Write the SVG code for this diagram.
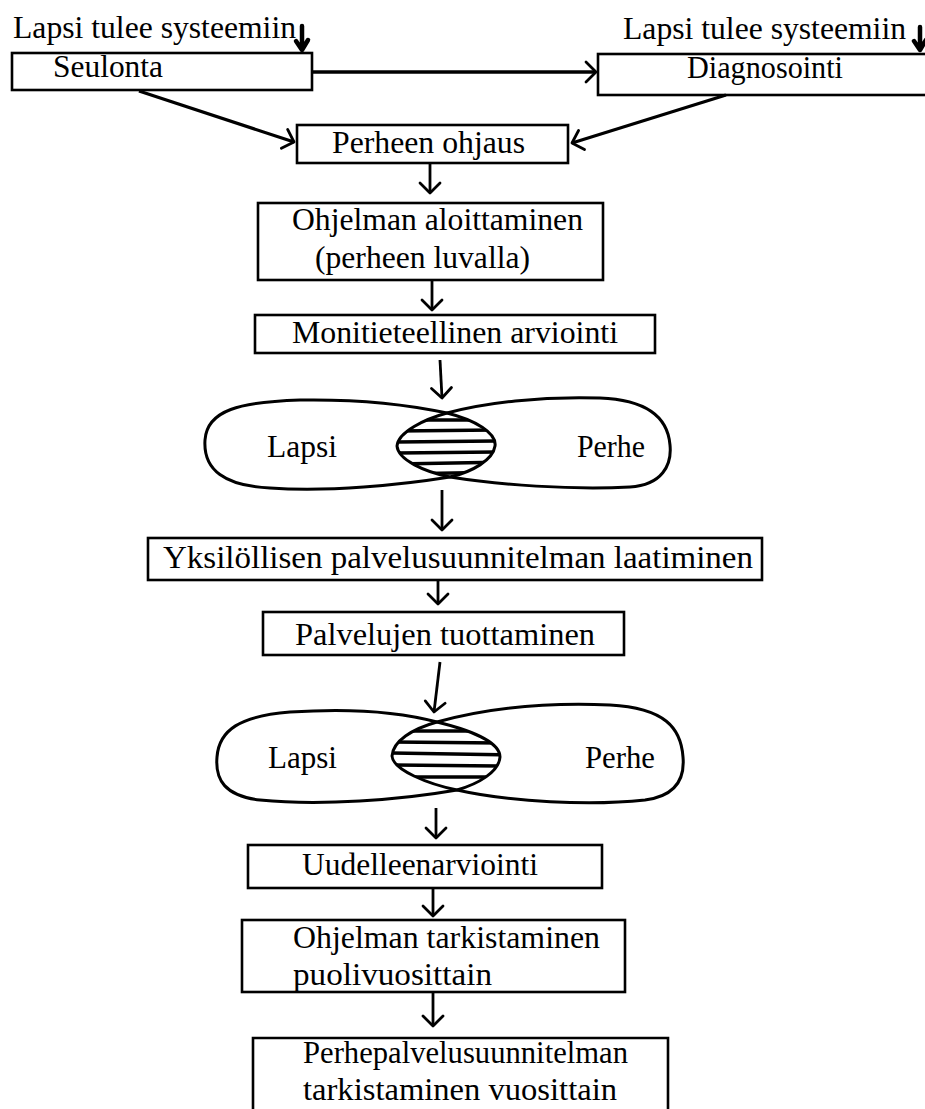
<svg xmlns="http://www.w3.org/2000/svg" width="925" height="1109" viewBox="0 0 925 1109">
<style>
  .box{fill:none;stroke:#000;stroke-width:2.6}
  .t{font-family:"Liberation Serif","Times New Roman",serif;font-size:32px;fill:#000}
  .c{fill:none;stroke:#000;stroke-width:2.8}
  .bold{fill:none;stroke:#000;stroke-width:4.5;stroke-linecap:round;stroke-linejoin:round}
  .loop{fill:none;stroke:#000;stroke-width:3}
  .hatch{stroke:#000;stroke-width:3.5}
</style>
<defs>
  <marker id="ah" markerUnits="userSpaceOnUse" markerWidth="16" markerHeight="24" refX="11" refY="10" orient="auto" overflow="visible">
    <path d="M1,0 L11,10 L1,20" fill="none" stroke="#000" stroke-width="2.8" stroke-linecap="round" stroke-linejoin="round"/>
  </marker>
  <path id="lens1" d="M447,413 C475,420 497,433 495,446 C493,460 472,472 450,477 C425,472 398,460 397,446 C398,432 425,419 447,413 Z"/>
  <clipPath id="clip1"><use href="#lens1"/></clipPath>
  <path id="lens2" d="M437,722 C470,730 500,742 500,757 C499,772 478,784 457,790 C428,784 393,770 392,756 C393,741 412,729 437,722 Z"/>
  <clipPath id="clip2"><use href="#lens2"/></clipPath>
</defs>

<g id="entry-left">
  <text class="t" x="13" y="38" textLength="283" lengthAdjust="spacingAndGlyphs">Lapsi tulee systeemiin</text>
  <path class="bold" d="M302,26 L302,48 M296,41 L302,50 L308,40"/>
</g>
<g id="entry-right">
  <text class="t" x="623" y="39" textLength="283" lengthAdjust="spacingAndGlyphs">Lapsi tulee systeemiin</text>
  <path class="bold" d="M920,27 L920,48 M914,41 L920,50 L926,40"/>
</g>

<g id="seulonta">
  <rect class="box" x="12" y="53" width="300" height="37"/>
  <text class="t" x="53" y="77" textLength="110" lengthAdjust="spacingAndGlyphs">Seulonta</text>
</g>
<g id="diagnosointi">
  <rect class="box" x="598" y="54" width="340" height="41"/>
  <text class="t" x="687" y="78" textLength="156" lengthAdjust="spacingAndGlyphs">Diagnosointi</text>
</g>
<g id="perheen-ohjaus">
  <rect class="box" x="297" y="125" width="271" height="38"/>
  <text class="t" x="332" y="153" textLength="193" lengthAdjust="spacingAndGlyphs">Perheen ohjaus</text>
</g>
<g id="ohjelman-aloittaminen">
  <rect class="box" x="258" y="203" width="345" height="77"/>
  <text class="t" x="292" y="230" textLength="291" lengthAdjust="spacingAndGlyphs">Ohjelman aloittaminen</text>
  <text class="t" x="315" y="268" textLength="215" lengthAdjust="spacingAndGlyphs">(perheen luvalla)</text>
</g>
<g id="monitieteellinen">
  <rect class="box" x="255" y="315" width="400" height="38"/>
  <text class="t" x="292" y="343" textLength="326" lengthAdjust="spacingAndGlyphs">Monitieteellinen arviointi</text>
</g>

<g id="lapsi-perhe-1">
  <g clip-path="url(#clip1)">
    <line class="hatch" x1="390" y1="420" x2="505" y2="420"/>
    <line class="hatch" x1="390" y1="431" x2="505" y2="430"/>
    <line class="hatch" x1="390" y1="442" x2="505" y2="441"/>
    <line class="hatch" x1="390" y1="453" x2="505" y2="452"/>
    <line class="hatch" x1="390" y1="464" x2="505" y2="462"/>
    <line class="hatch" x1="390" y1="474" x2="505" y2="472"/>
  </g>
  <path class="loop" d="M447,413 C475,420 497,433 495,446 C493,460 472,472 450,477 C400,485 330,492 270,488 C225,486 203,470 205,440 C207,410 240,402 300,400 C360,399 410,405 447,413 Z"/>
  <path class="loop" d="M447,413 C425,419 398,432 397,446 C398,460 425,472 450,477 C500,485 570,490 630,487 C662,485 672,465 670,445 C668,420 650,400 600,398 C540,396 485,403 447,413 Z"/>
  <text class="t" x="267" y="457" textLength="70" lengthAdjust="spacingAndGlyphs">Lapsi</text>
  <text class="t" x="577" y="457" textLength="68" lengthAdjust="spacingAndGlyphs">Perhe</text>
</g>

<g id="yksilollisen">
  <rect class="box" x="148" y="538" width="614" height="42"/>
  <text class="t" x="163" y="568" textLength="590" lengthAdjust="spacingAndGlyphs">Yksilöllisen palvelusuunnitelman laatiminen</text>
</g>
<g id="palvelujen">
  <rect class="box" x="263" y="612" width="361" height="43"/>
  <text class="t" x="295" y="645" textLength="300" lengthAdjust="spacingAndGlyphs">Palvelujen tuottaminen</text>
</g>

<g id="lapsi-perhe-2">
  <g clip-path="url(#clip2)">
    <line class="hatch" x1="385" y1="731" x2="510" y2="731"/>
    <line class="hatch" x1="385" y1="742" x2="510" y2="743"/>
    <line class="hatch" x1="385" y1="753" x2="510" y2="755"/>
    <line class="hatch" x1="385" y1="765" x2="510" y2="766"/>
    <line class="hatch" x1="385" y1="777" x2="510" y2="777"/>
  </g>
  <path class="loop" d="M437,722 C470,730 500,742 500,757 C499,772 478,784 457,790 C400,800 320,806 260,800 C225,796 215,780 217,757 C219,730 240,716 290,712 C350,708 400,712 437,722 Z"/>
  <path class="loop" d="M437,722 C412,729 393,741 392,756 C393,770 428,784 457,790 C510,802 590,806 645,800 C675,796 685,780 683,757 C681,728 665,708 610,705 C540,702 480,710 437,722 Z"/>
  <text class="t" x="268" y="768" textLength="69" lengthAdjust="spacingAndGlyphs">Lapsi</text>
  <text class="t" x="585" y="768" textLength="70" lengthAdjust="spacingAndGlyphs">Perhe</text>
</g>

<g id="uudelleenarviointi">
  <rect class="box" x="248" y="845" width="354" height="43"/>
  <text class="t" x="302" y="875" textLength="236" lengthAdjust="spacingAndGlyphs">Uudelleenarviointi</text>
</g>
<g id="ohjelman-tarkistaminen">
  <rect class="box" x="242" y="920" width="383" height="72"/>
  <text class="t" x="293" y="948" textLength="307" lengthAdjust="spacingAndGlyphs">Ohjelman tarkistaminen</text>
  <text class="t" x="293" y="985" textLength="199" lengthAdjust="spacingAndGlyphs">puolivuosittain</text>
</g>
<g id="perhepalvelusuunnitelman">
  <path class="box" d="M253,1109 L253,1038 L668,1038 L668,1109"/>
  <text class="t" x="303" y="1063" textLength="325" lengthAdjust="spacingAndGlyphs">Perhepalvelusuunnitelman</text>
  <text class="t" x="303" y="1100" textLength="314" lengthAdjust="spacingAndGlyphs">tarkistaminen vuosittain</text>
</g>

<g id="connectors">
  <line class="c" x1="312" y1="72" x2="596" y2="72" marker-end="url(#ah)" style="stroke-width:3.5"/>
  <line class="c" x1="139" y1="91" x2="294" y2="142" marker-end="url(#ah)" style="stroke-width:3.2"/>
  <line class="c" x1="726" y1="95" x2="572" y2="143" marker-end="url(#ah)" style="stroke-width:3.2"/>
  <line class="c" x1="430" y1="164" x2="430" y2="193" marker-end="url(#ah)"/>
  <line class="c" x1="432" y1="281" x2="432" y2="310" marker-end="url(#ah)"/>
  <line class="c" x1="440" y1="360" x2="442" y2="398" marker-end="url(#ah)"/>
  <line class="c" x1="442" y1="490" x2="442" y2="530" marker-end="url(#ah)"/>
  <line class="c" x1="438" y1="581" x2="438" y2="604" marker-end="url(#ah)"/>
  <line class="c" x1="440" y1="662" x2="434" y2="712" marker-end="url(#ah)"/>
  <line class="c" x1="436" y1="808" x2="436" y2="838" marker-end="url(#ah)"/>
  <line class="c" x1="433" y1="889" x2="433" y2="916" marker-end="url(#ah)"/>
  <line class="c" x1="433" y1="993" x2="433" y2="1026" marker-end="url(#ah)"/>
</g>
</svg>
